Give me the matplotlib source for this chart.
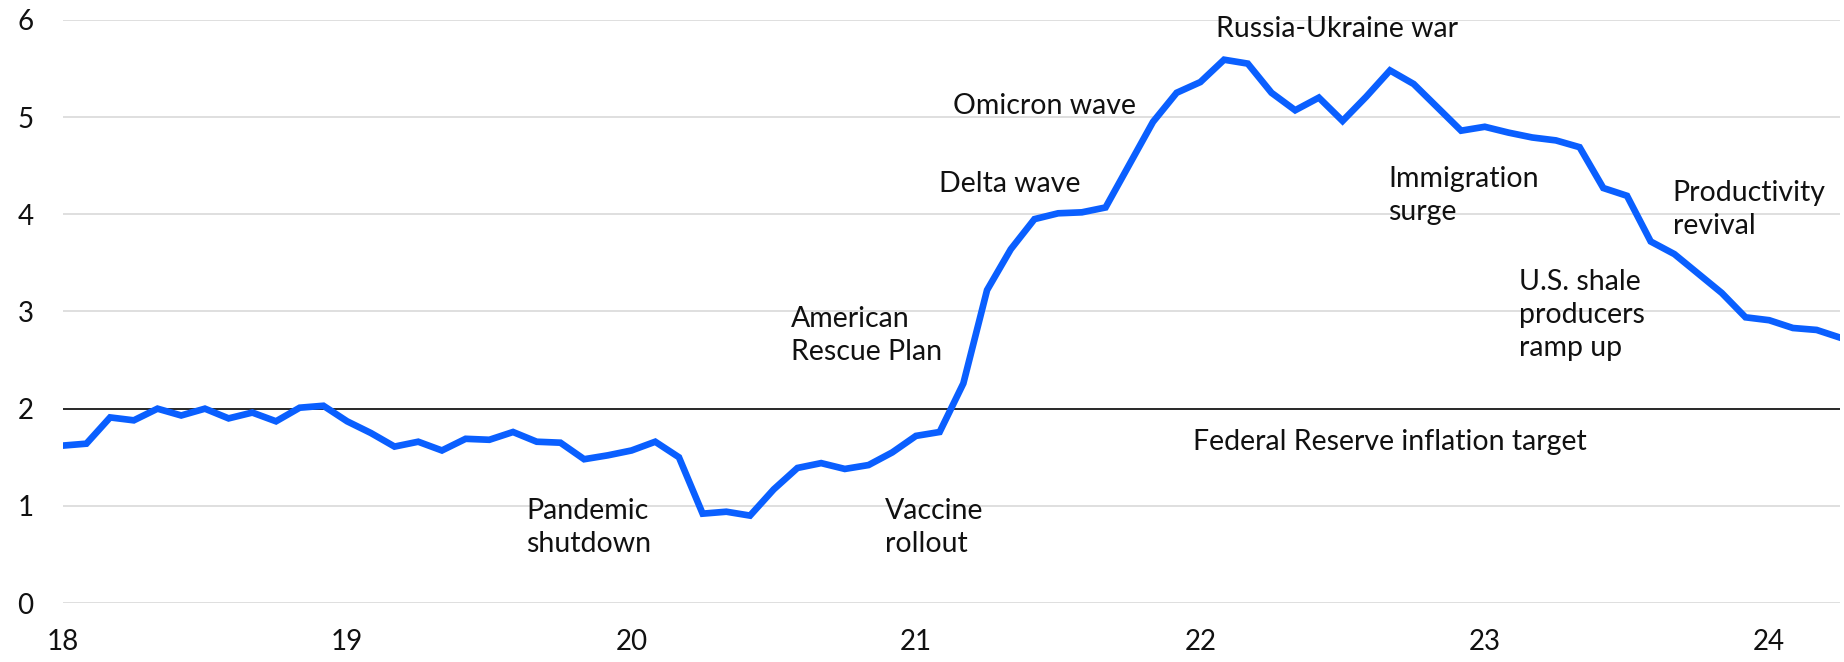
import numpy as np
import pandas as pd
import matplotlib
matplotlib.use('Agg')
import matplotlib.pyplot as plt

# monthly values, Jan 2018 .. Apr 2024
values = [
    1.62, 1.64, 1.91, 1.88, 2.00, 1.93, 2.00, 1.90, 1.96, 1.87, 2.01, 2.03,
    1.87, 1.75, 1.61, 1.66, 1.57, 1.69, 1.68, 1.76, 1.66, 1.65, 1.48, 1.52,
    1.57, 1.66, 1.50, 0.92, 0.94, 0.90, 1.17, 1.39, 1.44, 1.38, 1.42, 1.55,
    1.72, 1.76, 2.26, 3.22, 3.64, 3.95, 4.01, 4.02, 4.07, 4.51, 4.95, 5.25,
    5.36, 5.59, 5.55, 5.25, 5.07, 5.20, 4.96, 5.21, 5.48, 5.34, 5.10, 4.86,
    4.90, 4.84, 4.79, 4.76, 4.69, 4.27, 4.19, 3.72, 3.59, 3.39, 3.19, 2.94,
    2.91, 2.83, 2.81, 2.73,
]
dates = pd.date_range('2018-01-01', periods=len(values), freq='MS')
x = dates.year + (dates.month - 1) / 12.0

target = 2.0
year_ticks = [2018, 2019, 2020, 2021, 2022, 2023, 2024]
year_labels = ['18', '19', '20', '21', '22', '23', '24']

# (text, x, y of text centre)
notes = [
    ('Pandemic\nshutdown', 2019.63, 0.78),
    ('American\nRescue Plan', 2020.56, 2.75),
    ('Vaccine\nrollout', 2020.89, 0.78),
    ('Delta wave', 2021.08, 4.31),
    ('Omicron wave', 2021.13, 5.11),
    ('Russia-Ukraine war', 2022.054, 5.91),
    ('Federal Reserve inflation target', 2021.975, 1.66),
    ('Immigration\nsurge', 2022.66, 4.19),
    ('U.S. shale\nproducers\nramp up', 2023.12, 2.96),
    ('Productivity\nrevival', 2023.66, 4.05),
]

plt.rcParams['font.family'] = ['Lato', 'DejaVu Sans']

fig = plt.figure(figsize=(18.44, 6.62), dpi=100)
ax = fig.add_axes([0.034, 0.089, 0.964, 0.881])

ax.set_ylim(0, 6)
ax.set_xlim(x[0], x[-1])
ax.set_yticks(range(0, 7))
ax.yaxis.grid(True, color='#d9d9d9', linewidth=1.2)
ax.set_axisbelow(True)
for s in ax.spines.values():
    s.set_visible(False)

ax.axhline(target, color='#1a1a1a', linewidth=1.3, zorder=2)
ax.plot(x, values, color='#0a5fff', linewidth=4.8, solid_joinstyle='miter', zorder=3)

ax.set_xticks(year_ticks)
ax.set_xticklabels(year_labels)
ax.tick_params(axis='both', length=0, labelsize=20, colors='#111111')
ax.tick_params(axis='y', pad=21)
ax.tick_params(axis='x', pad=19)

for txt, tx, ty in notes:
    ax.text(tx, ty, txt, fontsize=20.5, ha='left', va='center', color='#111111',
            linespacing=1.33)

fig.savefig('out.png', dpi=100)
